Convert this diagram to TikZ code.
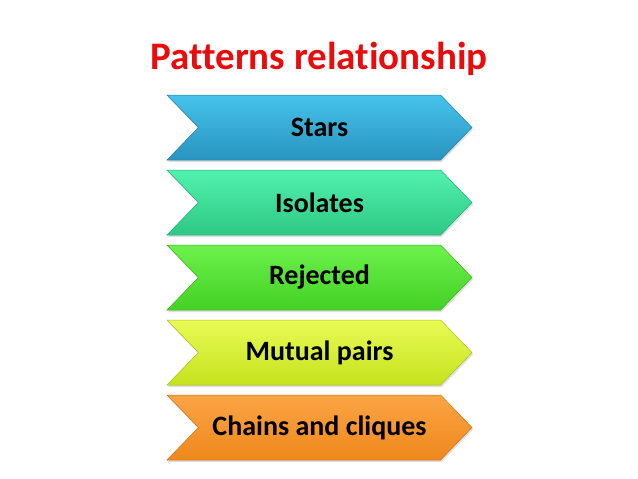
\documentclass[tikz,border=0pt]{standalone}
\usepackage{fontspec}
\setmainfont{Carlito}[Ligatures=NoCommon]
\usepackage{tikz}
\usetikzlibrary{positioning,shapes.symbols,shadows}
\definecolor{TitleRed}{HTML}{E80C0C}
\definecolor{StarsTop}{HTML}{46C3EA}
\definecolor{StarsBot}{HTML}{2994C0}
\definecolor{IsoTop}{HTML}{52F2AE}
\definecolor{IsoBot}{HTML}{2DC884}
\definecolor{RejTop}{HTML}{6CF24C}
\definecolor{RejBot}{HTML}{44D024}
\definecolor{MutTop}{HTML}{E8FB55}
\definecolor{MutBot}{HTML}{C6E21E}
\definecolor{ChainTop}{HTML}{FCA445}
\definecolor{ChainBot}{HTML}{EE881C}

\begin{document}
\begin{tikzpicture}[x=1pt,y=1pt,
  chev/.style={shape=signal,signal from=west,signal to=east,signal pointer angle=92,
    minimum width=305pt,minimum height=65pt,inner sep=0pt,
    font=\bfseries\fontsize{28}{32}\selectfont,text=black,line width=0.5pt,
    drop shadow={opacity=0.25,shadow xshift=1pt,shadow yshift=-2pt}}]
  \useasboundingbox (0,0) rectangle (638,-479);
  \node[TitleRed,font=\bfseries\fontsize{39}{44}\selectfont,anchor=base] (title) at (319,-69) {Patterns relationship};
  \node[chev,top color=StarsTop,bottom color=StarsBot,draw=StarsBot!85!black] (stars) at (319.5,-127.5) {Stars};
  \node[chev,top color=IsoTop,bottom color=IsoBot,draw=IsoBot!85!black,below=9.5pt of stars] (isolates) {Isolates};
  \node[chev,top color=RejTop,bottom color=RejBot,draw=RejBot!85!black,below=9.5pt of isolates] (rejected) {Rejected};
  \node[chev,top color=MutTop,bottom color=MutBot,draw=MutBot!85!black,below=9.5pt of rejected] (mutual) {Mutual pairs};
  \node[chev,top color=ChainTop,bottom color=ChainBot,draw=ChainBot!85!black,below=9.5pt of mutual] (chains) {Chains and cliques};
\end{tikzpicture}
\end{document}
